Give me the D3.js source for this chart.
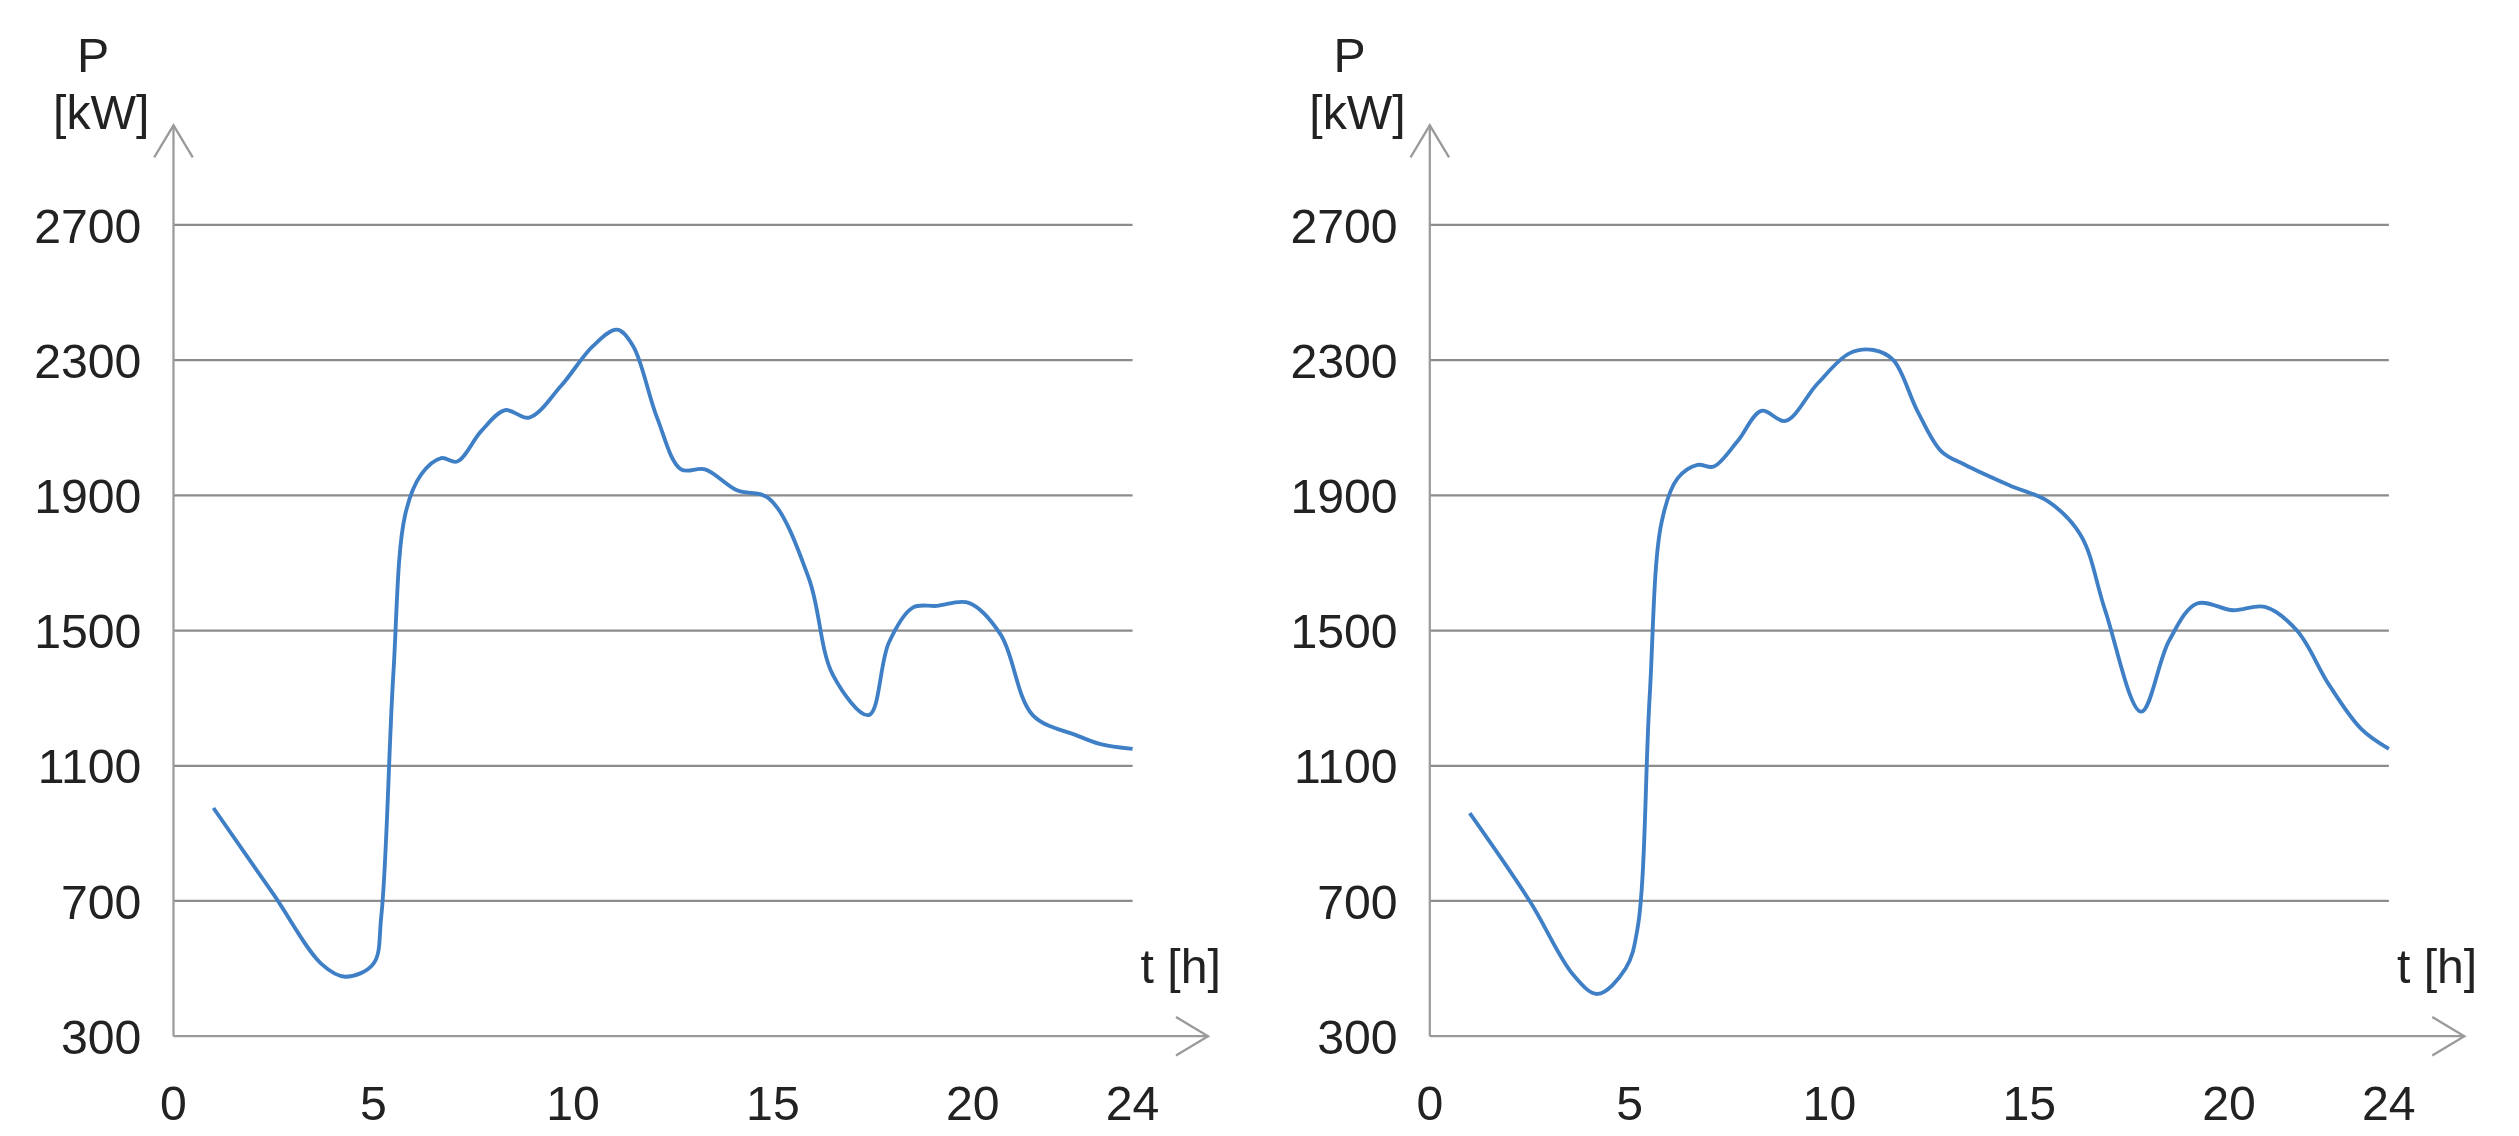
<!DOCTYPE html>
<html>
<head>
<script src="https://d3js.org/d3.v7.min.js"></script>
<style>
  body { margin: 0; background: #fff; }
  text { font-family: 'Liberation Sans', Arial, sans-serif; fill: #222; }
</style>
</head>
<body>
<svg id="chart" width="2519" height="1136"></svg>
<script>
// hours and power readings for each panel
const leftHours = [1, 2.5, 3.7, 4.3, 5, 5.2, 5.5, 5.8, 6.2, 6.7, 7.1, 7.7, 8.3, 8.9, 9.7, 10.5, 11.1, 11.5, 12.1, 12.7, 13.3, 14.1, 14.9, 15.9, 16.5, 17.4, 17.9, 18.5, 19.1, 19.9, 20.7, 21.5, 22.6, 23.2, 24];
const leftPower = [975, 720, 514, 476, 514, 656, 1369, 1844, 1962, 2010, 2000, 2090, 2152, 2130, 2224, 2342, 2390, 2342, 2130, 1977, 1977, 1915, 1891, 1654, 1369, 1250, 1464, 1568, 1573, 1582, 1488, 1250, 1190, 1164, 1150];
const rightHours = [1, 2.5, 3.6, 4.2, 4.9, 5.2, 5.5, 5.8, 6.2, 6.7, 7.1, 7.7, 8.3, 8.9, 9.7, 10.5, 11.1, 11.6, 12.2, 12.8, 13.4, 14.5, 15.5, 16.3, 16.9, 17.8, 18.5, 19.2, 20.1, 20.9, 21.7, 22.5, 23.3, 24];
const rightPower = [960, 700, 480, 425, 500, 620, 1300, 1820, 1950, 1990, 1985, 2060, 2150, 2120, 2230, 2320, 2330, 2300, 2150, 2030, 1990, 1930, 1880, 1780, 1560, 1260, 1470, 1580, 1560, 1570, 1500, 1340, 1210, 1150];
const yTicks = [300, 700, 1100, 1500, 1900, 2300, 2700];
const xTicks = [0, 5, 10, 15, 20, 24];

const root = d3.select("#chart").append("g").attr("transform", "scale(" + (2519 / 1568) + ")");

function drawPanel(ox, hours, power) {
  const g = root.append("g").attr("transform", "translate(" + ox + ",0)");
  const x = d3.scaleLinear().domain([0, 24]).range([108, 705]);
  const y = d3.scaleLinear().domain([300, 2700]).range([645, 140]);

  // grid
  g.selectAll(".grid").data(yTicks.slice(1)).join("line")
    .attr("x1", 108).attr("x2", 705)
    .attr("y1", d => y(d)).attr("y2", d => y(d))
    .attr("stroke", "#8c8c8c").attr("stroke-width", 1.4);

  // axes with open arrows
  g.append("line").attr("x1", 108).attr("x2", 108).attr("y1", 645).attr("y2", 78)
    .attr("stroke", "#9a9a9a").attr("stroke-width", 1.4);
  g.append("path").attr("d", "M96,98 L108,78 L120,98").attr("fill", "none")
    .attr("stroke", "#9a9a9a").attr("stroke-width", 1.4);
  g.append("line").attr("x1", 108).attr("x2", 752).attr("y1", 645).attr("y2", 645)
    .attr("stroke", "#9a9a9a").attr("stroke-width", 1.4);
  g.append("path").attr("d", "M732,633 L752,645 L732,657").attr("fill", "none")
    .attr("stroke", "#9a9a9a").attr("stroke-width", 1.4);

  g.selectAll(".yl").data(yTicks).join("text")
    .attr("x", 88).attr("y", d => y(d) + 11)
    .attr("text-anchor", "end").attr("font-size", 30).text(d => d);
  g.selectAll(".xl").data(xTicks).join("text")
    .attr("x", d => x(d)).attr("y", 697)
    .attr("text-anchor", "middle").attr("font-size", 30).text(d => d);

  g.append("text").attr("x", 58).attr("y", 45).attr("text-anchor", "middle").attr("font-size", 30).text("P");
  g.append("text").attr("x", 63).attr("y", 80).attr("text-anchor", "middle").attr("font-size", 30).text("[kW]");
  g.append("text").attr("x", 735).attr("y", 612).attr("text-anchor", "middle").attr("font-size", 30).text("t [h]");

  const line = d3.line().x(d => x(d[0])).y(d => y(d[1])).curve(d3.curveCatmullRom.alpha(0.5));
  g.append("path").datum(d3.zip(hours, power)).attr("d", line)
    .attr("fill", "none").attr("stroke", "#3f7fc6").attr("stroke-width", 2.4);
}

drawPanel(0, leftHours, leftPower);
drawPanel(782, rightHours, rightPower);
</script>
</body>
</html>
